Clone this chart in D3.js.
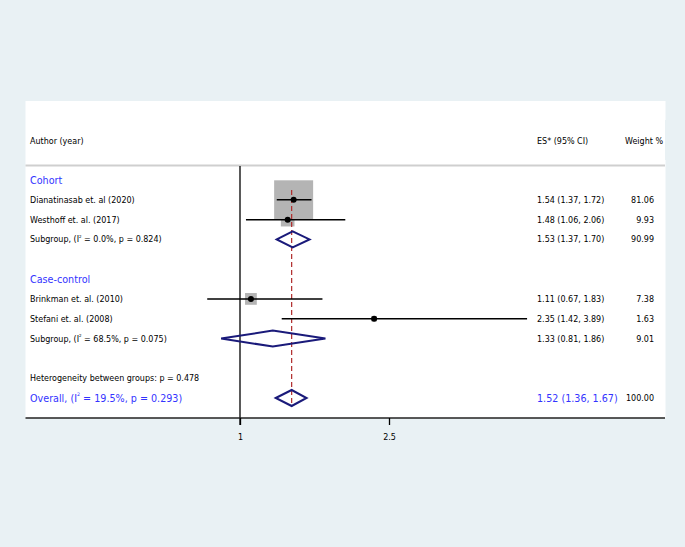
<!DOCTYPE html>
<html>
<head>
<meta charset="utf-8">
<script src="https://cdn.jsdelivr.net/npm/d3@7"></script>
<style>
  body { margin: 0; background: #e9f1f4; }
  svg { display: block; font-family: 'DejaVu Sans', Verdana, sans-serif; }
</style>
</head>
<body>
<div id="forest-chart"></div>
<script>
// -------------------------------------------------------------------------
// Data

const groups = ['Cohort', 'Case-control'];
const studies = ['Dianatinasab et. al (2020)', 'Westhoff et. al. (2017)', 'Brinkman et. al. (2010)', 'Stefani et. al. (2008)'];
const studyGroup = [0, 0, 1, 1];
const studyEs = [1.54, 1.48, 1.11, 2.35];
const studyLo = [1.37, 1.06, 0.67, 1.42];
const studyHi = [1.72, 2.06, 1.83, 3.89];
const studyWeight = [81.06, 9.93, 7.38, 1.63];

const subEs = [1.53, 1.33];
const subLo = [1.37, 0.81];
const subHi = [1.70, 1.86];
const subWeight = [90.99, 9.01];
const subI2 = ['0.0%', '68.5%'];
const subP = ['0.824', '0.075'];

const overallEs = 1.52;
const overallLo = 1.36;
const overallHi = 1.67;
const overallI2 = '19.5%';
const overallP = '0.293';
const heterogeneityP = '0.478';

const ticks = [1, 2.5];

// -------------------------------------------------------------------------
// Layout

const width = 685;
const height = 547;
const blue = '#3333ff';
const navy = '#1a1a7a';
const small = 8;
const big = 9.6;

const fmt = d3.format('.2f');
const ciText = (e, l, h) => `${fmt(e)} (${fmt(l)}, ${fmt(h)})`;

// build row list
let rows = [];
groups.forEach(function(g, gi) {
  rows.push({ type: 'group', label: g });
  studies.forEach(function(s, i) {
    if (studyGroup[i] === gi) {
      rows.push({ type: 'study', label: s, es: studyEs[i], lo: studyLo[i], hi: studyHi[i], w: studyWeight[i] });
    }
  });
  rows.push({ type: 'sub', i2: subI2[gi], p: subP[gi], es: subEs[gi], lo: subLo[gi], hi: subHi[gi], w: subWeight[gi] });
  rows.push({ type: 'blank' });
});
rows.push({ type: 'het', label: 'Heterogeneity between groups: p = ' + heterogeneityP });
rows.push({ type: 'overall', i2: overallI2, p: overallP, es: overallEs, lo: overallLo, hi: overallHi, w: 100 });

let x = d3.scaleLinear().domain([1, 2.5]).range([240, 389]);
let y = d3.scaleLinear().domain([0, rows.length - 1]).range([180, 398]);
let boxSize = d3.scaleSqrt().domain([0, 81.06]).range([0, 39]);

let svg = d3.select('#forest-chart')
  .append('svg')
  .attr('width', width)
  .attr('height', height);

// white plot panel
svg.append('rect')
  .attr('x', 25.5).attr('y', 101)
  .attr('width', 640).attr('height', 317)
  .attr('fill', '#fff');

// header
svg.append('text').attr('x', 30).attr('y', 144).attr('font-size', small).text('Author (year)');
svg.append('text').attr('x', 537).attr('y', 144).attr('font-size', small).text('ES* (95% CI)');
svg.append('text').attr('x', 625).attr('y', 144).attr('font-size', small).text('Weight %');
// clip header overflow to the panel edge
svg.append('rect').attr('x', 665).attr('y', 120).attr('width', 20).attr('height', 40).attr('fill', '#e9f1f4');

svg.append('line')
  .attr('x1', 25.5).attr('x2', 665)
  .attr('y1', 165.5).attr('y2', 165.5)
  .attr('stroke', '#cfcfcf').attr('stroke-width', 2);

// null line
svg.append('line')
  .attr('x1', x(1)).attr('x2', x(1))
  .attr('y1', 166).attr('y2', 425)
  .attr('stroke', '#000').attr('stroke-width', 1.3);

// boxes first so lines sit on top
let studyRows = rows.map((r, i) => Object.assign({ idx: i }, r)).filter(r => r.type === 'study');

svg.selectAll('rect.box')
  .data(studyRows)
  .enter()
  .append('rect')
  .attr('class', 'box')
  .attr('x', d => x(d.es) - boxSize(d.w) / 2)
  .attr('y', d => y(d.idx) - boxSize(d.w) / 2)
  .attr('width', d => boxSize(d.w))
  .attr('height', d => boxSize(d.w))
  .attr('fill', '#b4b4b4');

// overall dashed line
svg.append('line')
  .attr('x1', x(overallEs)).attr('x2', x(overallEs))
  .attr('y1', y(0.5)).attr('y2', y(rows.length - 1) + 8)
  .attr('stroke', '#b02a2a').attr('stroke-width', 1.2)
  .attr('stroke-dasharray', '5,3');

svg.selectAll('line.ci')
  .data(studyRows)
  .enter()
  .append('line')
  .attr('class', 'ci')
  .attr('x1', d => x(d.lo)).attr('x2', d => x(d.hi))
  .attr('y1', d => y(d.idx)).attr('y2', d => y(d.idx))
  .attr('stroke', '#000').attr('stroke-width', 1.5);

svg.selectAll('circle.pt')
  .data(studyRows)
  .enter()
  .append('circle')
  .attr('class', 'pt')
  .attr('cx', d => x(d.es)).attr('cy', d => y(d.idx))
  .attr('r', 3).attr('fill', '#000');

// diamonds
let diamondRows = rows.map((r, i) => Object.assign({ idx: i }, r)).filter(r => r.type === 'sub' || r.type === 'overall');
svg.selectAll('path.diamond')
  .data(diamondRows)
  .enter()
  .append('path')
  .attr('class', 'diamond')
  .attr('d', function(d) {
    let cy = y(d.idx);
    return `M${x(d.lo)},${cy}L${x(d.es)},${cy - 8}L${x(d.hi)},${cy}L${x(d.es)},${cy + 8}Z`;
  })
  .attr('fill', 'none')
  .attr('stroke', navy)
  .attr('stroke-width', 2);

// left labels and right columns
rows.forEach(function(r, i) {
  let ty = y(i) + 3;
  if (r.type === 'group') {
    svg.append('text').attr('x', 30).attr('y', ty + 0.5).attr('font-size', big).attr('fill', blue).text(r.label);
  } else if (r.type === 'study' || r.type === 'het') {
    svg.append('text').attr('x', 30).attr('y', ty).attr('font-size', small).text(r.label);
  } else if (r.type === 'sub' || r.type === 'overall') {
    let isOverall = r.type === 'overall';
    let fs = isOverall ? big : small;
    let t = svg.append('text').attr('x', 30).attr('y', ty + (isOverall ? 0.5 : 0)).attr('font-size', fs)
      .attr('fill', isOverall ? blue : '#000');
    t.append('tspan').text((isOverall ? 'Overall' : 'Subgroup') + ', (I');
    t.append('tspan').attr('font-size', fs * 0.5).attr('dy', -fs * 0.55).text('2');
    t.append('tspan').attr('dy', fs * 0.55).text(` = ${r.i2}, p = ${r.p})`);
  }
  if (r.es !== undefined) {
    let isOverall = r.type === 'overall';
    svg.append('text').attr('x', 537).attr('y', ty + (isOverall ? 0.5 : 0))
      .attr('font-size', isOverall ? big : small).attr('fill', isOverall ? blue : '#000')
      .text(ciText(r.es, r.lo, r.hi));
    svg.append('text').attr('x', 654).attr('y', ty).attr('text-anchor', 'end')
      .attr('font-size', small).text(fmt(r.w));
  }
});

// x axis
svg.append('line')
  .attr('x1', 25.5).attr('x2', 665)
  .attr('y1', 418).attr('y2', 418)
  .attr('stroke', '#222').attr('stroke-width', 1.5);

let axis = d3.axisBottom(x).tickValues(ticks).tickSize(7).tickFormat(d3.format('~g'));
let gAxis = svg.append('g').attr('transform', 'translate(0,418)').call(axis);
gAxis.select('.domain').remove();
gAxis.selectAll('text').attr('font-size', 8).attr('font-family', 'DejaVu Sans, sans-serif').attr('dy', '1.45em');
gAxis.selectAll('line').attr('stroke-width', 1.3);
</script>
</body>
</html>
